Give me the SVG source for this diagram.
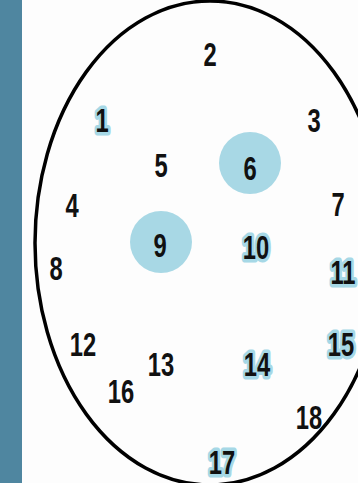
<svg xmlns="http://www.w3.org/2000/svg" width="358" height="483" viewBox="0 0 358 483">
<style>
.n{font-family:"Liberation Sans",Arial,sans-serif;font-weight:bold;font-size:33px;text-anchor:middle;fill:#111}
.h{stroke:#a6d8e6;stroke-width:7;stroke-linejoin:round;paint-order:stroke}
.c{fill:#a8d8e5}
</style>
<rect x="0" y="0" width="358" height="483" fill="#4f86a0"/>
<rect x="22" y="-20" width="400" height="516" rx="14" fill="#fdfdfd"/>
<ellipse id="ring" cx="210" cy="243" rx="175" ry="242" fill="none" stroke="#000" stroke-width="3.5"/>
<g id="n1"><text class="n h" transform="translate(102,132) scale(0.72,1)">1</text></g>
<g id="n2"><text class="n" transform="translate(210,66) scale(0.72,1)">2</text></g>
<g id="n3"><text class="n" transform="translate(314,132) scale(0.72,1)">3</text></g>
<g id="n4"><text class="n" transform="translate(72,217) scale(0.72,1)">4</text></g>
<g id="n5"><text class="n" transform="translate(161,177) scale(0.72,1)">5</text></g>
<g id="n6"><circle class="c" cx="250" cy="163" r="31"/><text class="n" transform="translate(250,180) scale(0.72,1)">6</text></g>
<g id="n7"><text class="n" transform="translate(338,216) scale(0.72,1)">7</text></g>
<g id="n8"><text class="n" transform="translate(56,280) scale(0.72,1)">8</text></g>
<g id="n9"><circle class="c" cx="161" cy="242" r="31"/><text class="n" transform="translate(160,257) scale(0.72,1)">9</text></g>
<g id="n10"><text class="n h" transform="translate(256,259) scale(0.72,1)">10</text></g>
<g id="n11"><text class="n h" transform="translate(343,284) scale(0.72,1)">11</text></g>
<g id="n12"><text class="n" transform="translate(83,356) scale(0.72,1)">12</text></g>
<g id="n13"><text class="n" transform="translate(161,376) scale(0.72,1)">13</text></g>
<g id="n14"><text class="n h" transform="translate(257,376) scale(0.72,1)">14</text></g>
<g id="n15"><text class="n h" transform="translate(341,356) scale(0.72,1)">15</text></g>
<g id="n16"><text class="n" transform="translate(121,403) scale(0.72,1)">16</text></g>
<g id="n17"><text class="n h" transform="translate(222,474) scale(0.72,1)">17</text></g>
<g id="n18"><text class="n" transform="translate(309,429) scale(0.72,1)">18</text></g>
</svg>
